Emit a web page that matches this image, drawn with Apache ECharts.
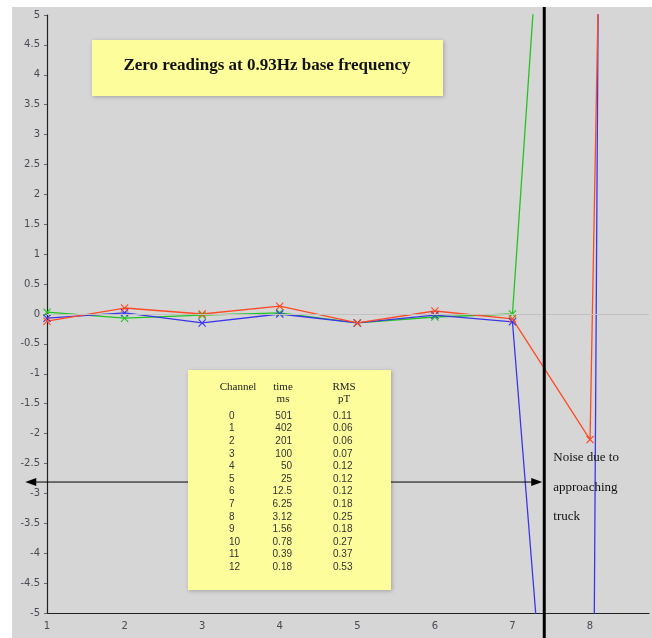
<!DOCTYPE html>
<html>
<head>
<meta charset="utf-8">
<script src="https://cdn.jsdelivr.net/npm/echarts@6/dist/echarts.min.js"></script>
<style>
  html, body { margin: 0; padding: 0; background: #ffffff; }
  #chart { position: absolute; left: 12px; top: 7px; width: 640px; height: 631px; background: #d6d6d6; }
</style>
</head>
<body>
<div id="chart"></div>
<script>
// sample positions and readings (pT) per channel group
const xValues = [1, 2, 3, 4, 5, 6, 7, 8, 9]
const redValues = [-0.12, 0.1, 0.0, 0.13, -0.15, 0.05, -0.08, -2.1, 68]
const blueValues = [-0.07, 0.02, -0.15, 0.0, -0.15, -0.02, -0.13, -16.4, 190]
const greenValues = [0.03, -0.07, -0.02, 0.02, -0.15, -0.05, 0.0, 19]

const yTicks = [-5, 5, 0.5] // min, max, step

// table contents
const tableChannels = ['0', '1', '2', '3', '4', '5', '6', '7', '8', '9', '10', '11', '12']
const tableTimes = ['501', '402', '201', '100', '50', '25', '12.5', '6.25', '3.12', '1.56', '0.78', '0.39', '0.18']
const tableRms = ['0.11', '0.06', '0.06', '0.07', '0.12', '0.12', '0.12', '0.18', '0.25', '0.18', '0.27', '0.37', '0.53']

// annotation positions in data units
const truckLineX = 7.41
const arrowY = -2.81
const arrowFromX = 0.72

const crossSymbol = 'path://M0,1L1,0L5,4L9,0L10,1L6,5L10,9L9,10L5,6L1,10L0,9L4,5Z'

function makeSeries(name, values, color) {
  return {
    name: name,
    type: 'line',
    data: values.map((v, i) => [xValues[i], v]),
    symbol: crossSymbol,
    symbolSize: 8,
    lineStyle: { color: color, width: 1.3 },
    itemStyle: { color: color },
    z: 3
  }
}

const chart = echarts.init(document.getElementById('chart'))

const option = {
  animation: false,
  grid: { left: 35, top: 8, right: 0, bottom: 25 },
  xAxis: {
    type: 'value',
    min: 1,
    max: 8.76,
    interval: 1,
    axisLine: { onZero: false, lineStyle: { color: '#222', width: 1.2 } },
    axisTick: { show: false },
    splitLine: { show: false },
    axisLabel: {
      color: '#4a4a55',
      fontSize: 10,
      fontFamily: 'DejaVu Sans',
      margin: 8,
      formatter: v => Number.isInteger(v) ? String(v) : ''
    }
  },
  yAxis: {
    type: 'value',
    min: yTicks[0],
    max: yTicks[1],
    interval: yTicks[2],
    axisLine: { show: true, onZero: false, lineStyle: { color: '#222', width: 1.2 } },
    axisTick: { show: true, length: 3, lineStyle: { color: '#666' } },
    splitLine: { show: false },
    axisLabel: {
      color: '#4a4a55',
      fontSize: 10,
      fontFamily: 'DejaVu Sans',
      margin: 7
    }
  },
  series: [
    Object.assign(makeSeries('green', greenValues, '#22c422'), {
      markLine: {
        silent: true,
        symbol: 'none',
        label: { show: false },
        lineStyle: { color: '#c2c2c2', type: 'solid', width: 1 },
        data: [{ yAxis: 0 }]
      }
    }),
    makeSeries('blue', blueValues, '#3a36ea'),
    makeSeries('red', redValues, '#ff4a24')
  ]
}

chart.setOption(option)

function buildGraphics() {
  const h = chart.getHeight()
  const vx = chart.convertToPixel({ gridIndex: 0 }, [truckLineX, 0])[0]
  const a0 = chart.convertToPixel({ gridIndex: 0 }, [arrowFromX, arrowY])
  const ay = a0[1]
  const ax0 = a0[0]
  const ax1 = vx - 2

  const g = []

  // thick vertical marker
  g.push({ type: 'line', shape: { x1: vx, y1: 0, x2: vx, y2: h }, style: { stroke: '#000', lineWidth: 3 }, z: 20 })

  // double arrow
  g.push({ type: 'line', shape: { x1: ax0 + 8, y1: ay, x2: ax1 - 8, y2: ay }, style: { stroke: '#000', lineWidth: 1 }, z: 20 })
  g.push({ type: 'polygon', shape: { points: [[ax0, ay], [ax0 + 11, ay - 4], [ax0 + 11, ay + 4]] }, style: { fill: '#000' }, z: 20 })
  g.push({ type: 'polygon', shape: { points: [[ax1, ay], [ax1 - 11, ay - 4], [ax1 - 11, ay + 4]] }, style: { fill: '#000' }, z: 20 })

  // title box
  g.push({
    type: 'rect', shape: { x: 80, y: 33, width: 351, height: 56 },
    style: { fill: '#fdfd9c', shadowBlur: 4, shadowColor: 'rgba(0,0,0,0.25)', shadowOffsetX: 1, shadowOffsetY: 1 }, z: 30
  })
  g.push({
    type: 'text', x: 255, y: 59, z: 31,
    style: {
      text: 'Zero readings at 0.93Hz base frequency',
      font: 'bold 17px "Liberation Serif"', fill: '#111',
      align: 'center', verticalAlign: 'middle'
    }
  })

  // table box
  g.push({
    type: 'rect', shape: { x: 176, y: 363, width: 203, height: 220 },
    style: { fill: '#fdfd9c', shadowBlur: 4, shadowColor: 'rgba(0,0,0,0.25)', shadowOffsetX: 1, shadowOffsetY: 1 }, z: 30
  })
  const headFont = '11px "Liberation Serif"'
  const heads = [
    ['Channel', 226, 380], ['time', 271, 380], ['ms', 271, 392], ['RMS', 332, 380], ['pT', 332, 392]
  ]
  heads.forEach(hd => {
    g.push({ type: 'text', x: hd[1], y: hd[2], z: 31,
      style: { text: hd[0], font: headFont, fill: '#222', align: 'center', verticalAlign: 'middle' } })
  })
  const numFont = '10px "Liberation Sans"'
  for (let i = 0; i < tableChannels.length; i++) {
    const ry = 409 + i * 12.6
    g.push({ type: 'text', x: 217, y: ry, z: 31,
      style: { text: tableChannels[i], font: numFont, fill: '#333', align: 'left', verticalAlign: 'middle' } })
    g.push({ type: 'text', x: 280, y: ry, z: 31,
      style: { text: tableTimes[i], font: numFont, fill: '#333', align: 'right', verticalAlign: 'middle' } })
    g.push({ type: 'text', x: 321, y: ry, z: 31,
      style: { text: tableRms[i], font: numFont, fill: '#333', align: 'left', verticalAlign: 'middle' } })
  }

  // noise note
  const noteLines = ['Noise due to', 'approaching', 'truck']
  noteLines.forEach((t, i) => {
    g.push({ type: 'text', x: vx + 9, y: 451 + i * 29.5, z: 31,
      style: { text: t, font: '13px "Liberation Serif"', fill: '#111', align: 'left', verticalAlign: 'middle' } })
  })

  return g
}

chart.setOption({ graphic: buildGraphics() })
</script>
</body>
</html>
